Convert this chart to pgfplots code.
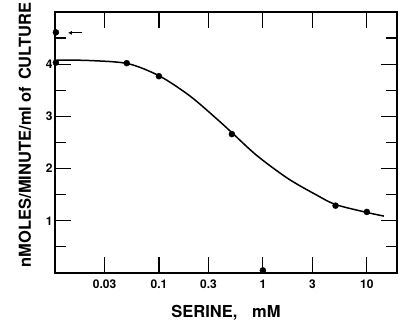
\documentclass[border=0pt]{standalone}
\usepackage{pgfplots}
\pgfplotsset{compat=1.18}
\usetikzlibrary{arrows.meta}
\usepackage{fontspec}
\setmainfont{TeX Gyre Heros}
\begin{document}
\begin{tikzpicture}
\begin{axis}[
  scale only axis,
  width=342pt, height=261pt,
  xmode=log,
  xmin=0.01, xmax=19.5,
  ymin=0, ymax=5,
  clip=false,
  axis line style={line width=2.2pt},
  tick style={line width=1.2pt, black},
  tick align=inside,
  major tick length=16pt,
  minor tick length=11pt,
  xtick={0.03,0.1,0.3,1,3,10},
  xticklabels={0.03,0.1,0.3,1,3,10},
  xminorticks=false,
  ytick={1,2,3,4},
  minor ytick={0.5,1.5,2.5,3.5,4.5},
  /pgf/number format/assume math mode=true,
  ticklabel style={font=\fontsize{12}{14}\selectfont\bfseries},
  xticklabel style={yshift=-3pt},
  yticklabel style={xshift=1pt},
  xlabel={SERINE,\hspace{0.9em}mM},
  ylabel={nMOLES/MINUTE/ml of\hspace{0.4em}CULTURE},
  label style={font=\fontsize{16.5}{18}\selectfont\bfseries},
  xlabel style={at={(axis description cs:0.5,-0.172)}, anchor=base},
  ylabel style={at={(axis description cs:-0.0877,0.529)}, anchor=center},
]
\addplot[black, line width=1.5pt, smooth] coordinates {
  (0.0104,4.08) (0.0217,4.07) (0.0504,4.01) (0.102,3.77) (0.199,3.39)
  (0.361,2.95) (0.515,2.67) (0.875,2.25) (1.74,1.81) (3.31,1.49)
  (5.03,1.31) (10,1.16) (14.6,1.09)
};
\addplot[only marks, mark=*, mark size=3pt, black] coordinates {
  (0.0102,4.61) (0.0102,4.03) (0.049,4.02) (0.1,3.77) (0.503,2.66)
  (1,0.05) (5.0,1.29) (10,1.17)
};
\draw[-{Latex[length=4pt,width=4pt]}, line width=1.2pt] (axis cs:0.0182,4.6) -- (axis cs:0.0133,4.6);
\coordinate (sw) at (rel axis cs:0,0);
\end{axis}
\pgfresetboundingbox
\path (sw) ++(-55pt,-47pt) rectangle ++(400pt,320pt);
\end{tikzpicture}
\end{document}
